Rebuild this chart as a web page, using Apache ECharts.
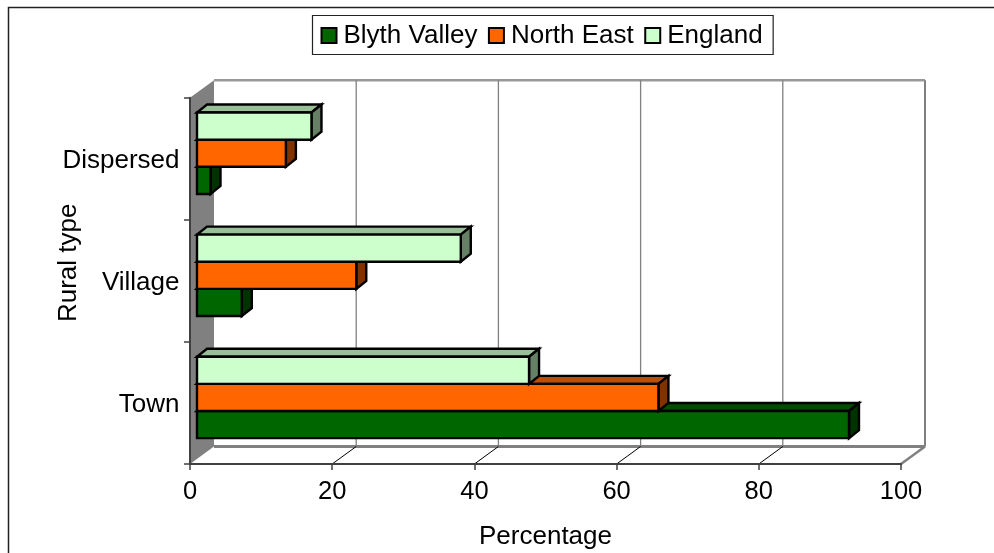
<!DOCTYPE html>
<html>
<head>
<meta charset="utf-8">
<style>html,body{margin:0;padding:0;background:#fff}#c{width:994px;height:553px}</style>
<script src="https://cdn.jsdelivr.net/npm/echarts@6/dist/echarts.min.js"></script>
</head>
<body>
<div id="c"></div>
<script>
const categories = ['Town', 'Village', 'Dispersed'];
const blythValley = [91.7, 6.3, 1.9];
const northEast = [64.9, 22.4, 12.5];
const england = [46.7, 37.1, 16.1];
const xTicks = [0, 20, 40, 60, 80, 100];

const FONT = '"Liberation Sans", Arial, sans-serif';
const WALL = [24, -17.5];      // depth of the chart box
const BAR_OFF = [7, -5.5];     // front of bars relative to front plane
const BAR_DEPTH = [10, -8];    // depth of the bars
const GRID = '#808080';

function shade(hex, f) {
  const n = parseInt(hex.slice(1), 16);
  const c = [n >> 16, (n >> 8) & 255, n & 255].map(v => Math.round(v * f));
  return 'rgb(' + c.join(',') + ')';
}
function poly(points, fill, stroke, lw) {
  return { type: 'polygon', shape: { points }, style: { fill, stroke: stroke || null, lineWidth: lw || 0, lineJoin: 'miter' } };
}
function line(a, b, stroke, lw) {
  return { type: 'line', shape: { x1: a[0], y1: a[1], x2: b[0], y2: b[1] }, style: { stroke, lineWidth: lw } };
}

function barSeries(name, values, color, slot) {
  return {
    name, type: 'custom', coordinateSystem: 'cartesian2d', z: 4,
    itemStyle: { color, borderColor: '#000', borderWidth: 2 },
    data: values.map((v, i) => [v, i]),
    encode: { x: 0, y: 1 },
    renderItem(params, api) {
      const end = api.coord([api.value(0), api.value(1)]);
      const start = api.coord([0, api.value(1)]);
      const band = api.size([0, 1])[1];
      const h = band / 4.5;
      const yTop = start[1] + BAR_OFF[1] - 1.5 * h + slot * h;
      const x0 = start[0] + BAR_OFF[0];
      const x1 = end[0] + BAR_OFF[0];
      const y0 = yTop, y1 = yTop + h;
      const dx = BAR_DEPTH[0], dy = BAR_DEPTH[1];
      const k = '#000';
      return { type: 'group', children: [
        poly([[x0, y0], [x1, y0], [x1 + dx, y0 + dy], [x0 + dx, y0 + dy]], shade(color, 0.75), k, 2.4),
        poly([[x1, y0], [x1 + dx, y0 + dy], [x1 + dx, y1 + dy], [x1, y1]], shade(color, 0.5), k, 2.4),
        poly([[x0, y0], [x1, y0], [x1, y1], [x0, y1]], color, k, 2.4)
      ] };
    }
  };
}

const wallSeries = {
  type: 'custom', coordinateSystem: 'cartesian2d', z: 1, silent: true,
  data: xTicks.map(t => [t, 0]),
  encode: { x: 0, y: 1 },
  renderItem(params, api) {
    const t = api.value(0);
    const f0 = api.coord([t, 0]);
    const band = api.size([0, 1])[1];
    const yb = f0[1] + band / 2, yt = yb - band * categories.length;
    const x = f0[0], bx = x + WALL[0], by = yb + WALL[1], ty = yt + WALL[1];
    const kids = [];
    if (t === xTicks[0]) {
      kids.push(poly([[x, yt], [bx, ty], [bx, by], [x, yb]], GRID));
      const r = api.coord([xTicks[xTicks.length - 1], 0])[0];
      kids.push(line([bx, ty], [r + WALL[0], ty], '#999999', 2.5));
      kids.push(line([bx, by], [r + WALL[0], by], GRID, 3));
    } else {
      kids.push(line([bx, ty], [bx, by], GRID, t === xTicks[xTicks.length - 1] ? 2 : 1.3));
      if (t === xTicks[xTicks.length - 1]) kids.push(line([x, yb], [bx, by], GRID, 2.5));
      else kids.push(line([x, yb], [bx, by], '#000', 1));
    }
    return { type: 'group', children: kids };
  }
};

const chart = echarts.init(document.getElementById('c'), null, { renderer: 'canvas' });
chart.setOption({
  animation: false,
  backgroundColor: '#fff',
  textStyle: { fontFamily: FONT },
  graphic: [{
    type: 'rect', z: -10, silent: true,
    shape: { x: 8.5, y: 7.5, width: 1000, height: 570 },
    style: { fill: '#fff', stroke: '#222', lineWidth: 1.5 }
  }],
  legend: {
    data: ['Blyth Valley', 'North East', 'England'],
    left: 312.5, top: 15.5,
    orient: 'horizontal', backgroundColor: '#fff',
    borderColor: '#222', borderWidth: 1.2, padding: [7, 10.5, 6, 8],
    itemWidth: 15, itemHeight: 15, itemGap: 10.5, icon: 'rect',
    textStyle: { fontFamily: FONT, fontSize: 26, color: '#000', padding: [3, 0, 0, 2] },
    itemStyle: { borderColor: '#000', borderWidth: 2 }
  },
  grid: { left: 190, right: 93, top: 97.7, bottom: 89, containLabel: false, outerBoundsMode: 'none' },
  xAxis: {
    type: 'value', min: 0, max: 100, interval: 20, z: 3,
    name: 'Percentage', nameLocation: 'middle', nameGap: 60, nameMoveOverlap: false,
    nameTextStyle: { fontFamily: FONT, fontSize: 26, color: '#000' },
    axisLine: { show: true, onZero: false, lineStyle: { color: '#404040', width: 2 } },
    axisTick: { show: true, length: 6, lineStyle: { color: '#404040', width: 1.5 } },
    axisLabel: { fontFamily: FONT, fontSize: 25.5, color: '#000', margin: 15 },
    splitLine: { show: false }
  },
  yAxis: {
    type: 'category', data: categories, z: 3,
    name: 'Rural type', nameLocation: 'middle', nameGap: 108, nameRotate: 90, nameMoveOverlap: false,
    nameTextStyle: { fontFamily: FONT, fontSize: 26, color: '#000', padding: [0, 0, 0, 36] },
    axisLine: { show: true, onZero: false, lineStyle: { color: '#404040', width: 2 } },
    axisTick: { show: true, length: 6, lineStyle: { color: '#404040', width: 1.5 } },
    axisLabel: { fontFamily: FONT, fontSize: 26, color: '#000', margin: 10.5, verticalAlign: 'top', lineHeight: 4 },
    splitLine: { show: false }
  },
  series: [
    wallSeries,
    barSeries('Blyth Valley', blythValley, '#006600', 2),
    barSeries('North East', northEast, '#FF6600', 1),
    barSeries('England', england, '#CCFFCC', 0)
  ]
});
</script>
</body>
</html>
